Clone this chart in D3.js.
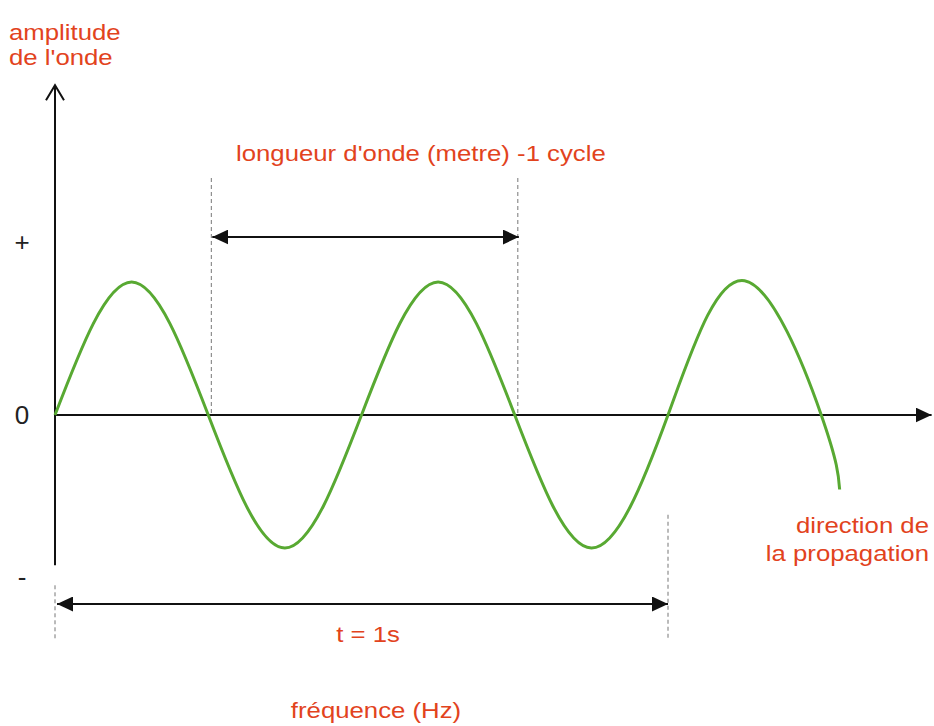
<!DOCTYPE html>
<html>
<head>
<meta charset="utf-8">
<script src="https://cdn.jsdelivr.net/npm/d3@7"></script>
<style>
  body { margin: 0; background: #fff; }
  text { font-family: "Liberation Sans", Arial, sans-serif; }
</style>
</head>
<body>
<svg id="chart" width="934" height="726"></svg>
<script>
// wave: time (s) and amplitude (peak = 1)
const waveT = [0, 0.125, 0.25, 0.375, 0.5, 0.625, 0.75, 0.875, 1, 1.125, 1.25, 1.28];
const waveA = [0, 1, 0, -1, 0, 1, 0, -1, 0, 1.01, 0, -0.56];

// y tick labels
const tickVals = [1.3, 0, -1.22];
const tickLabels = ["+", "0", "-"];

// markers
const wavelength = [0.255, 0.755];   // one cycle
const period = [0, 1];               // t = 1s
const axisExtent = { tMax: 1.43, aMin: -1.13, aMax: 2.48 };

const red = "#e2431d";
const green = "#58a932";

const svg = d3.select("#chart");

const x = d3.scaleLinear().domain([0, 1]).range([55, 668]);
const y = d3.scaleLinear().domain([-1, 1]).range([548, 282]);

// the source text is a bit wider than the font, stretch it
function stretch(sel, k) {
    sel.each(function () {
        const w = this.getComputedTextLength();
        d3.select(this)
            .attr("textLength", w * k)
            .attr("lengthAdjust", "spacingAndGlyphs");
    });
}

const defs = svg.append("defs");
defs.append("marker")
    .attr("id", "tri")
    .attr("viewBox", "0 0 10 10")
    .attr("refX", 10).attr("refY", 5)
    .attr("markerWidth", 16).attr("markerHeight", 15)
    .attr("markerUnits", "userSpaceOnUse")
    .attr("orient", "auto-start-reverse")
    .attr("preserveAspectRatio", "none")
    .append("path")
    .attr("d", "M0,0 L10,5 L0,10 Z")
    .attr("fill", "#111");

// dashed guides
const dash = svg.append("g")
    .attr("stroke", "#777")
    .attr("stroke-width", 1)
    .attr("stroke-dasharray", "4,3");
wavelength.forEach(t => {
    dash.append("line")
        .attr("x1", x(t)).attr("x2", x(t))
        .attr("y1", 178).attr("y2", y(0));
});
period.forEach((t, i) => {
    dash.append("line")
        .attr("x1", x(t)).attr("x2", x(t))
        .attr("y1", i === 0 ? y(axisExtent.aMin) + 20 : y(-0.75))
        .attr("y2", 640);
});

// axes
svg.append("line")
    .attr("x1", x(0)).attr("x2", x(axisExtent.tMax))
    .attr("y1", y(0)).attr("y2", y(0))
    .attr("stroke", "#111").attr("stroke-width", 2)
    .attr("marker-end", "url(#tri)");
svg.append("line")
    .attr("x1", x(0)).attr("x2", x(0))
    .attr("y1", y(axisExtent.aMin)).attr("y2", y(axisExtent.aMax))
    .attr("stroke", "#111").attr("stroke-width", 2);
// open arrow head on the amplitude axis
svg.append("path")
    .attr("d", `M${x(0) - 9},${y(axisExtent.aMax) + 15} L${x(0)},${y(axisExtent.aMax)} L${x(0) + 9},${y(axisExtent.aMax) + 15}`)
    .attr("fill", "none").attr("stroke", "#111").attr("stroke-width", 2);

svg.selectAll(".tick")
    .data(tickVals)
    .enter().append("text")
    .attr("class", "tick")
    .attr("x", 22)
    .attr("y", d => y(d))
    .attr("dy", "0.35em")
    .attr("text-anchor", "middle")
    .attr("font-size", 26)
    .attr("fill", "#222")
    .text((d, i) => tickLabels[i]);

// the wave
const line = d3.line()
    .x((d, i) => x(waveT[i]))
    .y(d => y(d))
    .curve(d3.curveNatural);
svg.append("path")
    .datum(waveA)
    .attr("d", line)
    .attr("fill", "none")
    .attr("stroke", green)
    .attr("stroke-width", 3);

// double arrows
svg.append("line")
    .attr("x1", x(wavelength[0]) + 1).attr("x2", x(wavelength[1]) + 1)
    .attr("y1", 237).attr("y2", 237)
    .attr("stroke", "#111").attr("stroke-width", 2)
    .attr("marker-start", "url(#tri)").attr("marker-end", "url(#tri)");
svg.append("line")
    .attr("x1", x(period[0]) + 2).attr("x2", x(period[1]))
    .attr("y1", 604).attr("y2", 604)
    .attr("stroke", "#111").attr("stroke-width", 2)
    .attr("marker-start", "url(#tri)").attr("marker-end", "url(#tri)");

// labels
const labels = svg.append("g").attr("fill", red).attr("font-size", 22);
labels.append("text").attr("x", 9).attr("y", 40).text("amplitude");
labels.append("text").attr("x", 9).attr("y", 65).text("de l'onde");
labels.append("text").attr("x", 236).attr("y", 161).text("longueur d'onde (metre) -1 cycle");
labels.append("text").attr("x", 929).attr("y", 533)
    .attr("text-anchor", "end").text("direction de");
labels.append("text").attr("x", 929).attr("y", 561)
    .attr("text-anchor", "end").text("la propagation");
labels.append("text").attr("x", 368).attr("y", 642)
    .attr("text-anchor", "middle").text("t = 1s");
labels.append("text").attr("x", 376).attr("y", 718)
    .attr("text-anchor", "middle").text("fréquence (Hz)");
stretch(labels.selectAll("text"), 1.17);
</script>
</body>
</html>
